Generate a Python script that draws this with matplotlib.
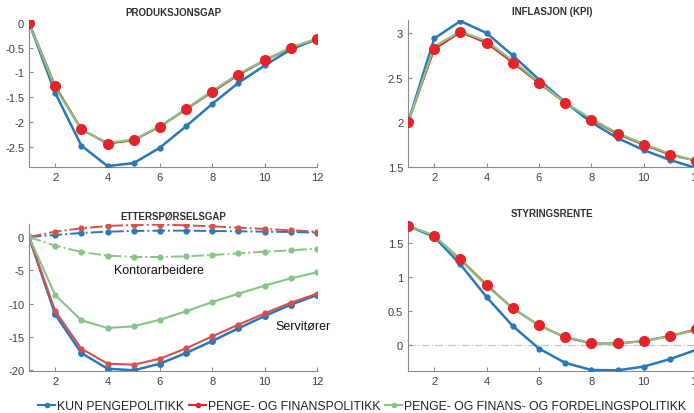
import matplotlib
matplotlib.use("Agg")
import matplotlib.pyplot as plt
from matplotlib.lines import Line2D

plt.rcParams['font.family'] = ['Liberation Sans', 'DejaVu Sans']

x = list(range(1, 13))

# Produksjonsgap
gap_blue = [0, -1.41, -2.47, -2.88, -2.82, -2.51, -2.08, -1.63, -1.21, -0.86, -0.54, -0.33]
gap_red = [0, -1.27, -2.14, -2.43, -2.36, -2.09, -1.74, -1.39, -1.05, -0.76, -0.51, -0.33]
gap_green = [0, -1.30, -2.15, -2.41, -2.35, -2.08, -1.73, -1.37, -1.03, -0.75, -0.50, -0.32]

# Inflasjon (KPI)
kpi_blue = [2.0, 2.94, 3.135, 3.0, 2.75, 2.48, 2.225, 2.0, 1.825, 1.69, 1.58, 1.49]
kpi_red = [2.0, 2.82, 3.01, 2.89, 2.67, 2.44, 2.22, 2.03, 1.87, 1.75, 1.64, 1.57]
kpi_green = [2.0, 2.85, 3.02, 2.91, 2.69, 2.45, 2.22, 2.04, 1.88, 1.76, 1.65, 1.57]

# Etterspørselsgap - servitører (heltrukket) og kontorarbeidere (stiplet)
serv_blue = [0, -11.6, -17.4, -19.75, -20.0, -19.0, -17.4, -15.6, -13.7, -11.85, -10.15, -8.7]
serv_red = [0, -11.1, -16.75, -19.0, -19.15, -18.25, -16.7, -14.9, -13.15, -11.45, -9.85, -8.5]
serv_green = [0, -8.7, -12.5, -13.65, -13.4, -12.4, -11.15, -9.75, -8.5, -7.3, -6.2, -5.3]
kont_blue = [0, 0.3, 0.6, 0.8, 0.9, 0.95, 0.95, 0.9, 0.85, 0.8, 0.75, 0.65]
kont_red = [0, 0.8, 1.3, 1.65, 1.8, 1.85, 1.75, 1.6, 1.4, 1.2, 1.0, 0.8]
kont_green = [0, -1.3, -2.25, -2.8, -3.0, -3.0, -2.9, -2.7, -2.45, -2.2, -2.0, -1.75]

# Styringsrente
rente_blue = [1.75, 1.59, 1.185, 0.705, 0.28, -0.05, -0.26, -0.365, -0.37, -0.315, -0.205, -0.07]
rente_red = [1.75, 1.60, 1.26, 0.885, 0.54, 0.29, 0.115, 0.025, 0.025, 0.06, 0.135, 0.23]
rente_green = [1.75, 1.61, 1.25, 0.87, 0.54, 0.29, 0.12, 0.03, 0.02, 0.06, 0.13, 0.22]

labels = ["KUN PENGEPOLITIKK", "PENGE- OG FINANSPOLITIKK",
          "PENGE- OG FINANS- OG FORDELINGSPOLITIKK"]

BLUE = "#2a78b8"
RED = "#e3242b"
RED_L = "#d8504c"
GREEN = "#86c584"
AXC = "#8a8a8a"
TXT = "#404040"

fig = plt.figure(figsize=(6.94, 4.14), dpi=100)


def style(ax, title, ylim, yticks):
    ax.set_xlim(1, 12)
    ax.set_ylim(*ylim)
    ax.set_xticks([2, 4, 6, 8, 10, 12])
    ax.set_yticks(yticks)
    ax.set_yticklabels([f"{t:g}" for t in yticks])
    for s in ["top", "right"]:
        ax.spines[s].set_visible(False)
    for s in ["left", "bottom"]:
        ax.spines[s].set_color(AXC)
        ax.spines[s].set_linewidth(0.8)
    ax.tick_params(direction="in", length=3, color=AXC, labelcolor=TXT,
                   labelsize=8)
    ax.set_title(title, fontsize=7, fontweight="bold", color="#303030", pad=4)


def top_panel(ax, b, r, g):
    ax.plot(x, b, color=BLUE, lw=1.8, marker="o", ms=3.5, zorder=3)
    ax.plot(x, r, color=RED, lw=1.5, zorder=2)
    ax.plot(x, g, color=GREEN, lw=1.6, zorder=4)
    ax.plot(x, r, color=RED, lw=0, marker="o", ms=7, zorder=5)


ax1 = fig.add_axes([0.0418, 0.594, 0.415, 0.355])
top_panel(ax1, gap_blue, gap_red, gap_green)
style(ax1, "PRODUKSJONSGAP", (-2.9, 0.05), [0, -0.5, -1, -1.5, -2, -2.5])

ax2 = fig.add_axes([0.588, 0.594, 0.415, 0.356])
top_panel(ax2, kpi_blue, kpi_red, kpi_green)
style(ax2, "INFLASJON (KPI)", (1.5, 3.15), [1.5, 2, 2.5, 3])

ax3 = fig.add_axes([0.0418, 0.1014, 0.415, 0.356])
ax3.plot(x, serv_blue, color=BLUE, lw=1.8, marker="o", ms=4)
ax3.plot(x, serv_red, color=RED_L, lw=1.5, marker="o", ms=3.5)
ax3.plot(x, serv_green, color=GREEN, lw=1.5, marker="o", ms=3.5)
ax3.plot(x, kont_blue, color=BLUE, lw=1.4, ls="-.", marker="o", ms=3.5)
ax3.plot(x, kont_red, color=RED_L, lw=1.4, ls="-.", marker="o", ms=3.5)
ax3.plot(x, kont_green, color=GREEN, lw=1.4, ls="-.", marker="o", ms=3.5)
ax3.text(4.25, -4.9, "Kontorarbeidere", fontsize=9, color="#111111", va="center")
ax3.text(10.4, -13.4, "Servitører", fontsize=9, color="#111111", va="center")
style(ax3, "ETTERSPØRSELSGAP", (-20.1, 2.0), [0, -5, -10, -15, -20])

ax4 = fig.add_axes([0.588, 0.1014, 0.415, 0.362])
ax4.axhline(0, color="#c8c8c8", lw=0.9, ls="-.", zorder=1)
top_panel(ax4, rente_blue, rente_red, rente_green)
style(ax4, "STYRINGSRENTE", (-0.38, 1.82), [0, 0.5, 1, 1.5])

handles = [Line2D([], [], color=BLUE, lw=1.5, marker="o", ms=3),
           Line2D([], [], color=RED, lw=1.5, marker="o", ms=3),
           Line2D([], [], color=GREEN, lw=1.5, marker="o", ms=3)]
leg = fig.legend(handles, labels, loc="center", bbox_to_anchor=(0.522, 0.017),
                 ncol=3, frameon=False, fontsize=8.8, handlelength=1.4,
                 handletextpad=0.15, columnspacing=0.4, borderpad=0)
for t in leg.get_texts():
    t.set_color("#222222")

fig.savefig("out.png", dpi=100)
